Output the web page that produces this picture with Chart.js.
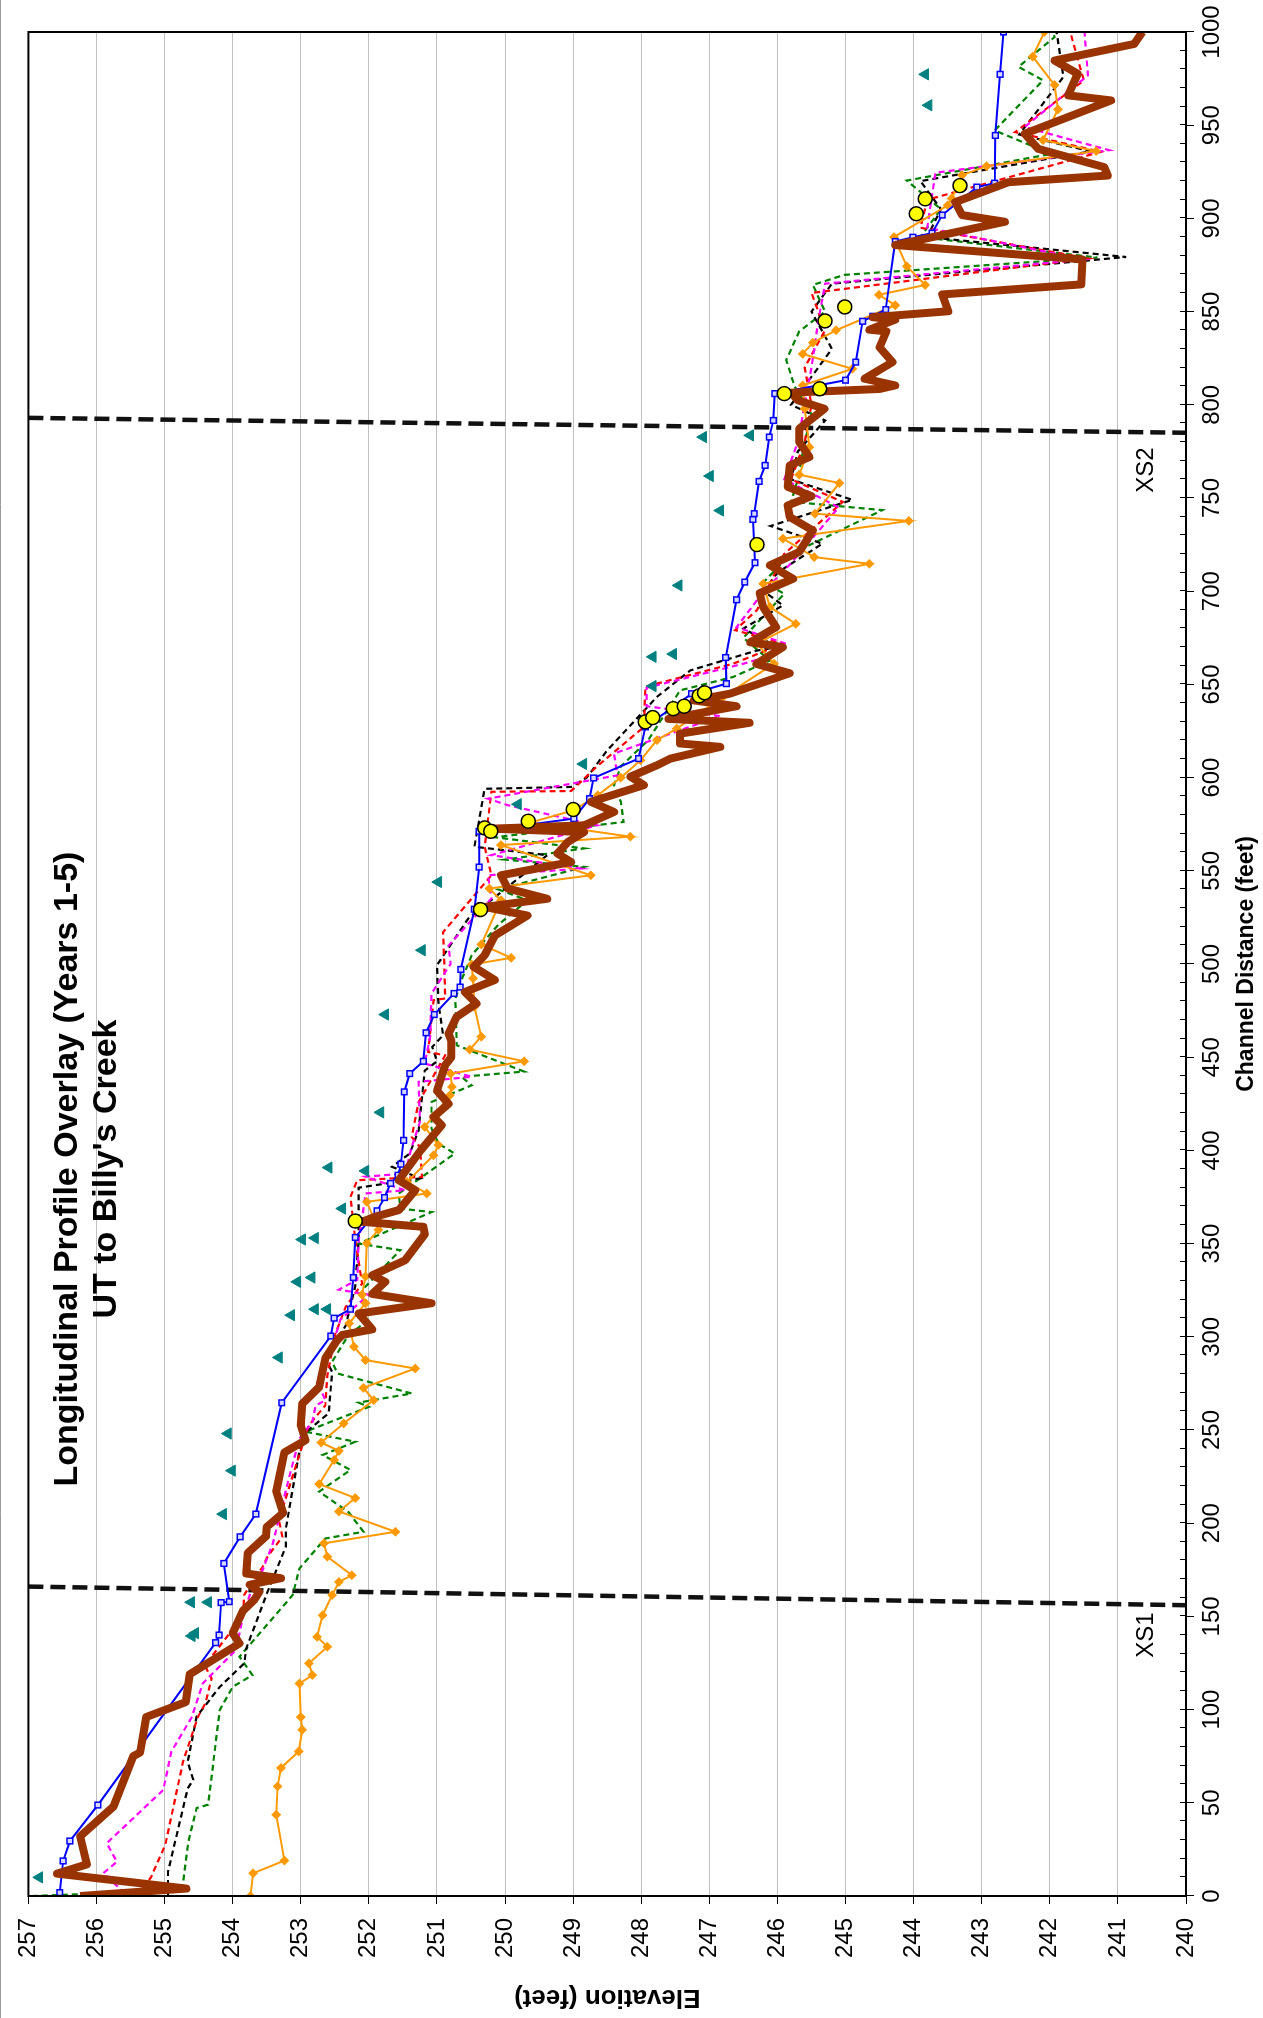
<!DOCTYPE html>
<html>
<head>
<meta charset="utf-8">
<script src="https://cdn.jsdelivr.net/npm/chart.js@4.4.1/dist/chart.umd.min.js"></script>
<style>
  html, body { margin: 0; padding: 0; background: #fff; }
  body { width: 1263px; height: 2018px; overflow: hidden; position: relative; }
  /* chart is drawn landscape, then turned a quarter left like the printed page */
  #wrap { position: absolute; left: 0; top: 0; width: 2018px; height: 1263px;
          transform-origin: 0 0; transform: translateY(2018px) rotate(-90deg); }
</style>
</head>
<body>
<div id="wrap"><canvas id="lp" width="2018" height="1263"></canvas></div>
<script>
(function () {
  'use strict';

  // ---- data: [channel distance (ft), elevation (ft)] ----
  const brownPts = [[0,256.24],[4,254.68],[12,256.58],[17,256.14],[32,256.24],[48,255.75],[75,255.46],[77,255.36],[96,255.27],[104,254.69],[119,254.63],[135.5,253.9],[141,254.0],[153,253.85],[159,253.68],[163,253.61],[167,253.75],[170.5,253.29],[173,253.8],[184,253.78],[193,253.51],[198,253.5],[205.5,253.26],[217,253.36],[238,253.24],[244.5,252.93],[252.5,253.0],[264,252.98],[273,252.73],[288.5,252.64],[298,252.47],[301,252.39],[304,251.95],[312.5,252.15],[318,251.08],[323,251.95],[329.5,251.76],[333,251.95],[341,251.47],[355,251.18],[359,251.2],[361.7,252.1],[364.4,251.91],[368,251.56],[378.6,251.32],[384,251.56],[400,251.24],[413.5,250.93],[418,251.05],[425,250.83],[432,251.0],[445.7,250.88],[450,250.79],[459,250.79],[462.7,250.83],[471.7,250.71],[478.8,250.42],[485,250.59],[491.4,250.15],[498.5,250.46],[504.7,250.3],[515.3,250.15],[526,249.67],[530.6,250.3],[535,249.38],[540.5,249.96],[547.6,250.06],[554.7,249.03],[559.3,249.23],[565.4,249.08],[570.8,248.84],[572.6,250.2],[574.4,248.84],[581.6,248.4],[587,248.74],[596,247.96],[600.5,248.16],[606.6,247.77],[610.2,247.57],[616.5,246.84],[618.3,247.43],[623.6,247.43],[629.4,246.41],[631.5,247.6],[638.3,246.6],[641.4,247.23],[645,246.7],[656,245.82],[661,246.31],[670,245.92],[672.6,246.4],[680.7,246.02],[691.5,246.21],[699,246.26],[706.7,245.77],[713.9,246.11],[721,245.68],[732.6,245.48],[739.8,245.82],[746,245.85],[751,245.5],[756,245.85],[767.5,245.82],[772,245.53],[780,245.68],[787.2,245.68],[797.9,245.31],[802.4,245.7],[806.5,245.8],[808.5,244.5],[810.4,244.27],[814,244.72],[822.9,244.31],[830.9,244.5],[839.4,244.4],[840.3,244.65],[845.7,244.27],[847,244.6],[850.2,243.49],[859.2,243.58],[864.6,241.54],[878,241.52],[885.7,244.27],[898.2,242.66],[901.8,243.29],[908.7,243.39],[919.4,242.61],[923,241.15],[927.5,241.2],[937.3,242.17],[945.4,242.37],[963.3,241.1],[966,241.73],[977.6,241.59],[984.7,241.93],[993.6,240.76],[1000,240.64]];

  const bluePts = [[1.8,256.54],[18.8,256.49],[29.5,256.39],[48.8,255.98],[135.9,254.25],[140,254.2],[157.4,254.17],[157.9,254.05],[178.4,254.13],[192.7,253.89],[204.9,253.66],[264.6,253.28],[300.4,252.56],[310,252.51],[314.8,252.27],[331.8,252.23],[353.3,252.2],[367.6,251.88],[374.7,251.77],[382.3,251.68],[386.7,251.57],[392.6,251.53],[405.4,251.49],[431.4,251.48],[441.2,251.4],[447.8,251.2],[463.1,251.16],[472.9,251.04],[484.2,250.75],[487.6,250.66],[497.1,250.65],[529.4,250.45],[552,250.38],[571.2,250.38],[578,248.99],[588.7,248.76],[599.8,248.7],[610.2,248.04],[627.2,247.94],[645,247.26],[650.4,246.75],[664.4,246.76],[695.4,246.6],[704.9,246.48],[715.3,246.33],[738.5,246.36],[741.6,246.34],[758.9,246.27],[767.5,246.18],[782.7,246.12],[791.6,246.06],[806,246.04],[813.2,245.0],[822.9,244.85],[844.8,244.75],[847.5,244.6],[851.1,244.41],[887.6,244.27],[889.9,244.01],[892.1,243.73],[901.8,243.58],[916.8,243.07],[918.9,242.81],[944.5,242.8],[977.3,242.73],[1000,242.68]];

  const orangePts = [[0,253.74],[12.2,253.7],[19,253.24],[43.6,253.36],[58.8,253.34],[68.7,253.29],[77.6,253.03],[89.2,252.98],[96,253.0],[114,253.02],[118.5,252.83],[124.8,252.88],[133.7,252.61],[139,252.76],[150.6,252.68],[161.4,252.54],[168.5,252.44],[172.1,252.25],[182,252.61],[189.2,252.66],[195.4,251.61],[206.3,252.44],[213.5,252.2],[221,252.73],[233.9,252.51],[238.8,252.44],[243.3,252.7],[253.5,252.37],[266,251.93],[272.6,252.08],[283,251.32],[287.5,252.05],[294.7,252.22],[307.2,252.29],[318,252.05],[322.6,252.1],[332.4,252.05],[350.2,252.03],[357.4,251.86],[372.4,252.03],[376.9,251.15],[383.1,251.44],[397.4,251.05],[402.9,250.98],[412.6,251.18],[429.6,250.81],[434.1,250.78],[441.2,250.8],[447.8,249.72],[454.1,250.52],[461,250.35],[477,250.45],[492.3,250.47],[499.7,250.49],[503.3,249.91],[510.5,250.35],[534.2,250.06],[540.5,250.23],[547.6,248.74],[563.8,250.06],[568.3,248.16],[576,249.62],[582.4,249.0],[590.5,248.64],[600,248.3],[609.3,248.01],[620.1,247.77],[626.3,247.48],[643.3,246.8],[661.1,246.05],[672,246.3],[682.5,245.73],[691.5,246.11],[704,246.21],[714.7,244.65],[718.3,245.46],[728.2,245.92],[737.7,244.07],[741.6,245.45],[758,245.09],[762.5,245.68],[777.3,245.53],[797.9,245.6],[810.4,245.63],[819.3,244.9],[827.3,245.63],[833.3,245.48],[840,245.14],[853.4,244.27],[859,244.51],[864.3,243.83],[874.3,244.1],[890,244.29],[907,243.5],[910.7,243.44],[923.2,243.29],[928,242.93],[936.1,241.32],[942,242.1],[958.5,241.88],[971.6,241.93],[986.8,242.25],[1000,242.08]];

  const greenPts = [[0,256.95],[3,254.75],[6.8,254.73],[29.3,254.65],[47.2,254.53],[49,254.36],[99.8,254.19],[112.2,254.0],[118.5,253.71],[128.4,253.9],[161.4,253.12],[175.7,253.02],[191.8,252.64],[195.4,252.08],[206,252.3],[216.9,252.73],[228.6,252.27],[236.6,252.68],[243.7,252.2],[249.1,252.93],[262.4,252.0],[264.7,252.15],[269.6,251.37],[280.3,252.46],[286.6,252.54],[300.9,252.3],[309.2,252.0],[325,252.1],[346.5,251.54],[350,252.15],[366.9,251.08],[368.8,251.54],[376.9,251.56],[398.3,250.74],[403.7,250.98],[411.7,251.08],[426,251.08],[434.9,250.49],[439.5,250.64],[442.3,249.72],[456.4,250.71],[481.5,250.73],[491.4,250.64],[504.7,250.49],[521,250.1],[534.2,249.67],[540,250.1],[552.1,248.84],[556,250.0],[562,248.84],[568,250.15],[576.2,248.26],[587,248.3],[596,248.4],[606,248.3],[620,247.9],[646.8,247.43],[654,246.65],[662.8,246.11],[675,246.5],[698.6,245.9],[705,246.2],[720,245.8],[743.5,244.46],[748,245.8],[760,245.7],[780,245.6],[795,245.5],[810,245.75],[824,245.87],[839.4,245.68],[850,245.3],[864.3,245.48],[869.7,245.02],[879,241.3],[890,243.9],[905,243.6],[920.3,244.1],[934.6,241.98],[947.2,242.81],[974.1,242.1],[981.3,242.46],[997.3,241.93],[1000,241.95]];

  const blackPts = [[0,254.95],[13,254.95],[57.8,254.66],[62.3,254.58],[72,254.66],[96.2,254.53],[112.2,254.19],[124.8,253.83],[132.8,253.8],[165.9,253.46],[187.4,253.22],[197,253.22],[247.2,252.98],[259,252.59],[281.2,252.54],[288.5,252.64],[306,252.34],[327.1,252.2],[352,252.15],[380,252.15],[385,251.25],[391.2,251.66],[398.3,251.4],[410.8,251.27],[442.8,251.18],[447.8,251.0],[455.5,251.07],[461.8,250.91],[479.7,250.98],[499.4,251.0],[524.4,250.54],[558.4,249.38],[562.9,250.45],[594,250.3],[595,249.03],[600,248.8],[614.6,248.5],[643.3,247.77],[657.5,247.28],[668.1,246.31],[670,246.0],[680,246.5],[692.4,245.92],[700,246.2],[710,246.0],[725.5,245.34],[735,246.1],[749,244.9],[760,245.8],[775,245.7],[791.6,245.3],[800,245.8],[815,245.5],[830,245.2],[850,245.5],[865,245.2],[879.3,240.88],[890,243.8],[905,243.6],[920,243.9],[936,241.4],[945,242.45],[975.9,241.8],[1000,241.9]];

  const redPts = [[0,255.41],[10,255.2],[27.4,254.99],[72,254.73],[96.2,254.51],[103.4,254.4],[116.7,254.31],[123.8,254.41],[150,253.85],[161.7,253.83],[176.6,253.56],[182,253.49],[192.7,253.27],[201.6,253.32],[231.1,253.07],[252.6,252.88],[263.2,252.64],[279.4,252.61],[301.8,252.49],[316.1,252.34],[328.6,252.1],[352,252.2],[375.1,252.27],[384,252.17],[385.8,251.22],[401.9,251.25],[407.2,251.37],[425.9,251.27],[451,250.88],[452.8,251.13],[480.6,251.05],[481.5,250.88],[497.6,250.89],[517.1,250.91],[547.6,250.2],[562.9,250.3],[592.4,250.2],[592.8,249.03],[606,248.65],[627.2,247.96],[648.8,247.94],[661.1,246.65],[671.8,245.92],[679.1,246.62],[689.9,246.3],[705,246.1],[720,245.9],[747.9,245.04],[760,245.8],[780,245.6],[800,245.5],[820,245.6],[840,245.3],[860,245.5],[878.5,241.44],[895,243.9],[910,243.8],[935.7,241.25],[946.3,242.51],[974,241.5],[1000,241.7]];

  const magentaPts = [[1.4,255.58],[12.2,255.9],[18.4,255.7],[28.3,255.85],[56.9,255.02],[77.5,254.9],[96,254.6],[114,254.44],[132.1,253.95],[150,253.85],[165.9,253.71],[174.9,253.56],[189.2,253.41],[199.6,253.34],[224.8,253.17],[245.3,253.02],[254.3,252.83],[263.2,252.78],[265.9,252.64],[273.9,252.73],[288.5,252.61],[306,252.44],[309.2,252.42],[322.6,252.0],[325.3,252.44],[330.6,252.17],[352,252.15],[362.6,252.1],[376.9,252.05],[378.6,251.47],[385.9,252.05],[387.6,251.47],[401.9,251.37],[415.3,251.25],[436.8,251.27],[439.5,250.49],[446.6,251.18],[460.9,251.1],[484.2,251.08],[500,250.8],[509.9,250.83],[535.2,250.2],[547.6,250.25],[551.2,248.89],[558.4,250.2],[574.4,248.65],[585.2,249.96],[588.7,250.25],[601.2,248.35],[612.9,248.4],[633,246.84],[638.3,247.92],[648.2,247.92],[661.1,246.5],[664.8,246.16],[671.8,245.87],[680.7,246.6],[700,246.2],[715,245.8],[745,245.1],[760,245.9],[780,245.7],[800,245.6],[820,245.5],[845,245.4],[865,245.3],[878,241.5],[895,243.8],[924.5,243.68],[936.6,241.13],[949,242.37],[976.7,241.44],[1000,241.49]];

  const tealPts = [[10,256.84],[139.5,254.6],[141,254.55],[157.6,254.61],[157.6,254.36],[204.9,254.14],[228.2,254.01],[248.1,254.07],[288.9,253.32],[311.6,253.14],[314.8,252.79],[314.8,252.61],[329.5,253.05],[331.8,252.84],[352.2,252.98],[353,252.79],[368.8,252.39],[389,252.05],[390.8,252.59],[420.4,251.83],[472.9,251.76],[507.4,251.22],[544,250.98],[585.7,249.81],[607.3,248.85],[649.1,247.83],[664.8,247.83],[666.3,247.53],[703.1,247.45],[743.3,246.84],[761.8,246.99],[782.7,247.09],[783.6,246.4],[960.7,243.78],[977.3,243.83]];

  const yellowPts = [[362.1,252.2],[529.2,250.36],[573,250.3],[571.2,250.21],[576.6,249.66],[582.9,249.0],[629.9,247.94],[632.2,247.83],[637,247.53],[638.3,247.37],[643.9,247.15],[645.5,247.07],[725,246.3],[806,245.9],[808.6,245.38],[845,245.3],[852.5,245.01],[902.5,243.96],[910.5,243.83],[917.6,243.32]];

  // cross-section markers
  const xs1Pts = [[166,257],[156,240]];
  const xs2Pts = [[793,257],[785,240]];
  const xsLabels = [['XS1', 140, 240.58], ['XS2', 765, 240.58]];

  const titleLines = ['Longitudinal Profile Overlay (Years 1-5)', "UT to Billy's Creek"];
  const titleAt = [390, 256.43, 255.85];   // distance, line-1 elev, line-2 elev

  const FONT = 'Arial, "Liberation Sans", sans-serif';
  const toXY = pts => pts.map(p => ({ x: p[0], y: p[1] }));

  function dashed(data, color, order) {
    return { data: toXY(data), borderColor: color, borderWidth: 2.2, borderDash: [6, 4],
             pointRadius: 0, fill: false, tension: 0, order };
  }

  const overlay = {
    id: 'overlay',
    afterDraw(chart) {
      const { ctx, chartArea: a, scales: { x, y } } = chart;
      ctx.save();
      // outer chart border (top edge only shows)
      ctx.strokeStyle = '#9a9a9a'; ctx.lineWidth = 1;
      ctx.beginPath(); ctx.moveTo(0, 0.5); ctx.lineTo(chart.width, 0.5); ctx.stroke();
      // inner minor ticks every 10 ft
      ctx.strokeStyle = '#000'; ctx.lineWidth = 1;
      for (let d = 0; d <= 1000; d += 10) {
        const px = Math.round(x.getPixelForValue(d)) + 0.5;
        ctx.beginPath(); ctx.moveTo(px, a.bottom); ctx.lineTo(px, a.bottom - 6); ctx.stroke();
      }
      // plot frame
      ctx.lineWidth = 2;
      ctx.strokeRect(a.left, a.top, a.right - a.left, a.bottom - a.top);
      // title
      ctx.fillStyle = '#000'; ctx.textAlign = 'center'; ctx.textBaseline = 'middle';
      ctx.font = 'bold 34px ' + FONT;
      ctx.fillText(titleLines[0], x.getPixelForValue(titleAt[0]), y.getPixelForValue(titleAt[1]));
      ctx.fillText(titleLines[1], x.getPixelForValue(titleAt[0]), y.getPixelForValue(titleAt[2]));
      // XS labels
      ctx.font = '24px ' + FONT;
      xsLabels.forEach(l => ctx.fillText(l[0], x.getPixelForValue(l[1]), y.getPixelForValue(l[2])));
      ctx.restore();
    }
  };

  new Chart(document.getElementById('lp'), {
    type: 'line',
    data: {
      datasets: [
        { data: toXY(yellowPts), showLine: false, pointStyle: 'circle', pointRadius: 7,
          pointBackgroundColor: '#FFFF00', pointBorderColor: '#000', pointBorderWidth: 1.5, order: 0 },
        { data: toXY(tealPts), showLine: false, pointStyle: 'triangle', pointRadius: 6.5,
          pointBackgroundColor: '#008080', pointBorderColor: '#008080', pointBorderWidth: 1, order: 1 },
        { data: toXY(brownPts), borderColor: '#993300', borderWidth: 8, pointRadius: 0,
          borderJoinStyle: 'round', tension: 0, order: 2 },
        { data: toXY(bluePts), borderColor: '#0000FF', borderWidth: 2, pointStyle: 'rect', pointRadius: 4,
          pointBackgroundColor: '#d8d8ff', pointBorderColor: '#0000FF', pointBorderWidth: 1.5, tension: 0, order: 3 },
        { data: toXY(orangePts), borderColor: '#FF9900', borderWidth: 2, pointStyle: 'rectRot', pointRadius: 3.5,
          pointBackgroundColor: '#FF9900', pointBorderColor: '#FF9900', tension: 0, order: 4 },
        dashed(magentaPts, '#FF00FF', 5),
        dashed(redPts, '#FF0000', 6),
        dashed(blackPts, '#000000', 7),
        dashed(greenPts, '#008000', 8),
        { data: toXY(xs1Pts), borderColor: '#111', borderWidth: 4.5, borderDash: [15, 7], pointRadius: 0, order: 9 },
        { data: toXY(xs2Pts), borderColor: '#111', borderWidth: 4.5, borderDash: [15, 7], pointRadius: 0, order: 9 },
      ],
    },
    options: {
      responsive: false, animation: false, devicePixelRatio: 1,
      layout: { padding: { top: 21, right: 32, left: 0, bottom: 0 } },
      plugins: { legend: { display: false }, tooltip: { enabled: false } },
      scales: {
        x: {
          type: 'linear', min: 0, max: 1000,
          afterFit: s => { s.height = 77; },
          ticks: { stepSize: 50, autoSkip: false, maxRotation: 0, color: '#000', padding: 4,
                   font: { family: FONT, size: 24 }, callback: v => String(v) },
          grid: { drawOnChartArea: false, tickLength: 8, tickColor: '#000', color: '#000' },
          border: { display: false },
          title: { display: true, text: 'Channel Distance (feet)', color: '#000',
                   padding: { top: 0, bottom: 3 }, font: { family: FONT, size: 23, weight: 'bold' } },
        },
        y: {
          type: 'linear', min: 240, max: 257,
          afterFit: s => { s.width = 122; },
          ticks: { stepSize: 1, color: '#000', padding: 14, font: { family: FONT, size: 24 },
                   callback: v => String(v) },
          grid: { color: '#c0c0c0', lineWidth: 1, tickLength: 8, tickColor: '#000' },
          border: { display: false },
          title: { display: true, text: 'Elevation (feet)', color: '#000',
                   padding: { top: 5, bottom: 0 }, font: { family: FONT, size: 26, weight: 'bold' } },
        },
      },
    },
    plugins: [overlay],
  });
})();
</script>
</body>
</html>
